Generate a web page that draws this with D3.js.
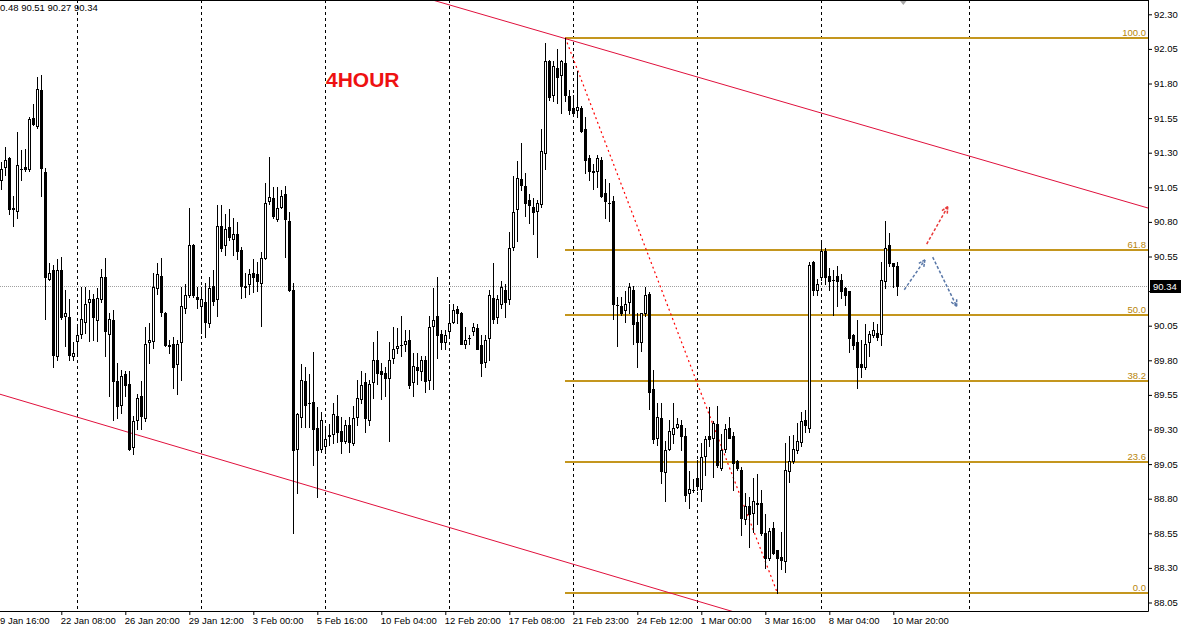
<!DOCTYPE html>
<html><head><meta charset="utf-8">
<script src="https://cdn.jsdelivr.net/npm/d3@7"></script>
<style>
html,body{margin:0;padding:0;background:#fff;overflow:hidden}
svg{display:block;font-family:"Liberation Sans",Arial,sans-serif}
</style></head><body>
<svg id="c" width="1185" height="626"></svg>
<script>
// ---- data (4H candles, index 0..224) ----
const opens=[91.10,91.20,91.26,90.90,90.88,91.18,91.20,91.18,91.55,91.49,91.75,91.16,90.39,90.45,89.83,90.45,90.12,90.11,89.83,89.94,
89.99,90.08,90.22,90.24,90.09,90.24,90.40,89.99,90.09,89.65,89.48,89.70,89.63,89.17,89.37,89.54,89.38,89.93,89.94,90.32,
90.41,90.14,89.91,89.92,89.77,89.93,90.18,90.27,90.63,90.26,90.19,90.22,90.07,90.34,90.24,90.77,90.63,90.76,90.68,90.71,
90.60,90.33,90.35,90.43,90.42,90.36,90.54,90.95,90.97,90.82,90.91,91.00,90.81,90.31,89.16,89.39,89.65,89.49,89.50,89.31,
89.16,89.18,89.26,89.27,89.40,89.29,89.22,89.33,89.20,89.39,89.52,89.64,89.37,89.64,89.80,89.72,89.71,89.67,89.82,89.89,
89.91,89.92,89.95,89.64,89.75,89.72,89.80,89.66,90.05,90.12,89.99,89.93,90.01,90.08,90.17,90.14,89.92,89.96,90.01,90.03,
89.91,89.79,89.96,90.25,90.11,90.21,90.31,90.24,90.62,90.89,91.11,91.06,90.96,90.91,90.88,90.93,91.30,91.96,91.72,91.91,
91.86,91.95,91.71,91.62,91.61,91.62,91.47,91.26,91.16,91.17,91.25,91.01,90.94,90.95,90.20,90.19,90.16,90.22,90.31,90.08,
89.93,90.14,90.28,89.59,89.24,89.38,88.99,89.16,89.27,89.32,89.33,89.25,88.84,88.86,88.95,88.87,89.11,89.25,89.24,89.34,
89.02,89.16,89.31,89.25,89.07,89.01,88.65,88.75,88.70,88.77,88.77,88.55,88.37,88.59,88.43,88.38,88.35,89.00,89.07,89.15,
89.21,89.37,89.31,90.51,90.31,90.40,90.59,90.41,90.38,90.41,90.38,90.32,90.30,89.98,89.93,89.77,89.75,89.93,89.98,90.00,
89.99,90.37,90.63,90.50,90.48];
const highs=[91.23,91.34,91.27,90.99,91.45,91.32,91.33,91.56,91.65,91.85,91.86,91.19,90.50,90.49,90.53,90.55,90.31,90.24,89.93,90.06,
90.33,90.33,90.31,90.28,90.32,90.46,90.54,90.14,90.16,89.78,89.73,89.72,89.72,89.40,89.56,89.65,90.04,90.07,90.43,90.50,
90.54,90.15,89.95,89.97,89.95,90.33,90.35,90.90,90.64,90.33,90.33,90.36,90.40,90.45,90.92,90.92,90.86,90.89,90.83,90.80,
90.62,90.43,90.46,90.53,90.51,90.58,91.08,91.27,91.05,91.05,91.03,91.06,90.87,90.36,89.42,89.77,89.75,89.70,89.86,89.46,
89.43,89.32,89.34,89.49,89.55,89.39,89.37,89.39,89.47,89.66,89.72,89.71,89.66,89.93,90.01,89.78,89.75,89.93,90.04,90.03,
90.12,90.02,90.02,89.85,89.85,89.83,89.83,90.12,90.32,90.40,90.02,90.02,90.21,90.21,90.19,90.15,90.04,89.98,90.07,90.06,
89.98,89.98,90.31,90.50,90.27,90.37,90.35,90.73,91.13,91.24,91.37,91.15,91.00,90.97,90.96,91.47,92.09,91.97,91.96,92.05,
91.97,92.13,91.75,91.72,91.89,91.64,91.56,91.28,91.22,91.28,91.27,91.11,91.08,90.99,90.26,90.26,90.30,90.36,90.34,90.14,
90.14,90.33,90.29,89.73,89.49,89.49,89.22,89.37,89.49,89.38,89.37,89.31,89.00,88.94,89.08,89.20,89.25,89.46,89.36,89.47,
89.27,89.34,89.39,89.28,89.08,89.03,88.84,88.81,88.95,88.98,88.86,88.69,88.59,88.63,88.43,88.56,89.20,89.25,89.26,89.35,
89.43,89.44,90.51,90.52,90.39,90.67,90.61,90.47,90.45,90.48,90.42,90.33,90.30,89.99,90.09,89.95,90.06,90.01,90.08,90.06,
90.51,90.81,90.72,90.50,90.51];
const lows=[91.04,91.14,90.86,90.77,90.83,91.10,91.17,91.17,91.50,91.48,90.99,90.10,90.38,89.75,89.80,90.10,89.90,89.80,89.80,89.84,
89.96,90.00,89.94,89.95,89.94,90.22,89.83,89.54,89.37,89.38,89.42,89.54,89.15,89.12,89.30,89.30,89.36,89.78,89.89,90.28,
90.12,89.90,89.85,89.60,89.56,89.66,90.14,90.26,90.26,90.18,90.00,89.97,90.04,90.20,90.12,90.59,90.56,90.67,90.56,90.53,
90.25,90.26,90.28,90.29,90.30,90.05,90.53,90.93,90.83,90.81,90.90,90.55,90.30,88.55,88.84,89.32,89.32,89.32,89.04,88.81,
89.14,89.13,89.19,89.20,89.21,89.13,89.20,89.14,89.19,89.33,89.49,89.28,89.33,89.53,89.63,89.52,89.54,89.22,89.78,89.85,
89.83,89.87,89.60,89.54,89.63,89.66,89.57,89.59,89.59,89.82,89.88,89.88,89.97,90.07,90.07,89.92,89.89,89.92,89.98,89.88,
89.69,89.75,89.80,90.07,90.07,90.18,90.11,90.21,90.60,90.66,91.03,90.84,90.79,90.71,90.55,90.91,91.18,91.68,91.67,91.66,
91.59,91.67,91.58,91.57,91.56,91.45,91.15,91.10,91.04,91.05,90.98,90.83,90.81,90.10,89.90,90.13,90.08,90.14,89.92,89.75,
89.87,90.12,89.45,89.20,89.19,88.91,88.78,89.15,89.20,89.31,89.15,88.78,88.73,88.85,88.86,88.78,88.97,89.18,88.96,89.03,
89.01,89.14,89.24,88.86,89.01,88.54,88.62,88.45,88.56,88.62,88.54,88.30,88.36,88.40,88.12,88.29,88.27,88.92,89.06,89.13,
89.18,89.28,89.28,90.27,90.27,90.38,90.35,90.31,90.13,90.19,90.25,90.20,89.86,89.88,89.60,89.68,89.74,89.83,89.97,89.95,
89.91,90.32,90.48,90.33,90.27];
const closes=[91.18,91.25,90.89,90.89,91.21,91.18,91.18,91.54,91.51,91.76,91.19,90.40,90.43,89.84,90.45,90.11,90.14,89.84,89.85,89.98,
90.10,90.21,90.24,90.11,90.25,90.40,90.01,90.10,89.65,89.47,89.69,89.62,89.16,89.36,89.53,89.40,89.92,89.95,90.33,90.42,
90.15,89.91,89.90,89.75,89.92,90.19,90.27,90.63,90.27,90.24,90.24,90.08,90.32,90.23,90.77,90.61,90.75,90.69,90.71,90.59,
90.34,90.34,90.42,90.40,90.37,90.54,90.94,90.98,90.84,90.90,90.99,90.82,90.31,89.15,89.41,89.66,89.48,89.49,89.30,89.15,
89.37,89.23,89.25,89.41,89.28,89.22,89.33,89.21,89.38,89.53,89.62,89.38,89.63,89.80,89.71,89.70,89.67,89.80,89.88,89.90,
89.91,89.94,89.62,89.76,89.73,89.80,89.65,90.04,90.09,89.98,89.93,89.98,90.07,90.16,90.14,89.92,89.95,89.96,90.04,89.88,
89.78,89.95,90.27,90.10,90.24,90.33,90.22,90.61,90.87,91.12,91.07,90.94,90.92,90.87,90.94,91.31,91.96,91.70,91.93,91.85,
91.96,91.72,91.61,91.59,91.63,91.46,91.25,91.17,91.17,91.26,90.99,90.95,90.94,90.21,90.20,90.14,90.21,90.33,90.06,89.93,
90.14,90.27,89.57,89.23,89.39,89.00,89.15,89.29,89.31,89.34,89.25,88.83,88.87,88.86,88.89,89.10,89.23,89.23,89.35,89.04,
89.15,89.30,89.24,89.06,89.02,88.66,88.75,88.69,88.78,88.76,88.55,88.37,88.57,88.41,88.37,88.36,89.01,89.07,89.16,89.22,
89.36,89.33,90.49,90.31,90.35,90.59,90.40,90.37,90.38,90.37,90.30,90.27,89.96,89.91,89.75,89.75,89.92,89.99,90.02,89.97,
90.38,90.61,90.50,90.48,90.34];

const priceTicks=[88.05,88.30,88.55,88.80,89.05,89.30,89.55,89.80,90.05,90.30,90.55,90.80,91.05,91.30,91.55,91.80,92.05,92.30];
const timeTickIdx=[-1,15,31,47,63,79,95,111,127,143,159,175,191,207,223];
const timeTickLabels=["9 Jan 16:00","22 Jan 08:00","26 Jan 20:00","29 Jan 12:00","3 Feb 00:00","5 Feb 16:00","10 Feb 04:00",
"12 Feb 20:00","17 Feb 08:00","21 Feb 23:00","24 Feb 12:00","1 Mar 00:00","3 Mar 16:00","8 Mar 04:00","10 Mar 20:00"];
const separatorIdx=[19,50,81,112,143,174,205,242];
const fibLevels=[0,23.6,38.2,50,61.8,100];
const fibLabels=["0.0","23.6","38.2","50.0","61.8","100.0"];
const fibHigh=92.13, fibLow=88.12, fibStartIdx=141, fibEndIdx=194;
const upperTrend=[[108.2,92.40],[286.7,90.90]];
const lowerTrend=[[-0.33,89.555],[183.4,87.98]];
const blueArrows=[[[225.75,90.31],[230.9,90.525]],[[232.85,90.545],[238.85,90.19]]];
const redArrows=[[[231.35,90.64],[236.6,90.91]]];
const lastPrice=90.34;
const headerText="0.48 90.51 90.27 90.34";
const titleText="4HOUR";

// ---- layout ----
const W=1185,H=626, plotR=1148, plotB=611;
const svg=d3.select("#c");
const x=d3.scaleLinear().domain([0,224]).range([1.3,897.3]);
const y=d3.scaleLinear().domain([88.05,92.30]).range([602.5,14.3]);
const FONT=9.5;

svg.append("defs").append("clipPath").attr("id","plot").append("rect")
  .attr("x",0).attr("y",0).attr("width",plotR).attr("height",plotB);
const g=svg.append("g").attr("clip-path","url(#plot)");

// period separators
g.selectAll("line.sep").data(separatorIdx).join("line")
  .attr("x1",d=>Math.round(x(d))+0.5).attr("x2",d=>Math.round(x(d))+0.5)
  .attr("y1",0).attr("y2",plotB)
  .attr("stroke","#000").attr("stroke-width",1).attr("stroke-dasharray","3,3");

// current price line
g.append("line").attr("x1",0).attr("x2",plotR)
  .attr("y1",Math.round(y(lastPrice))+0.5).attr("y2",Math.round(y(lastPrice))+0.5)
  .attr("stroke","#a0a0a0").attr("stroke-dasharray","1,1");

// fib levels
const fibY=lv=>y(fibLow+(fibHigh-fibLow)*lv/100);
g.selectAll("line.fib").data(fibLevels).join("line")
  .attr("x1",Math.round(x(fibStartIdx))).attr("x2",plotR)
  .attr("y1",d=>Math.round(fibY(d))).attr("y2",d=>Math.round(fibY(d)))
  .attr("stroke","#c4961e").attr("stroke-width",2);
g.selectAll("text.fib").data(fibLevels).join("text")
  .attr("x",plotR-2).attr("y",d=>Math.round(fibY(d))-2)
  .attr("text-anchor","end").attr("font-size",FONT).attr("fill","#b8860b")
  .text((d,k)=>fibLabels[k]);

// trend lines
const line=d3.line().x(d=>x(d[0])).y(d=>y(d[1]));
[upperTrend,lowerTrend].forEach(t=>{
  g.append("path").attr("d",line(t)).attr("fill","none").attr("stroke","#e0103c").attr("stroke-width",1);
});
// fib diagonal
g.append("path").attr("d",line([[fibStartIdx,fibHigh],[fibEndIdx,fibLow]]))
  .attr("fill","none").attr("stroke","#ff0000").attr("stroke-width",1.2).attr("stroke-dasharray","2,3");

// candles
const data=opens.map((o,i)=>({i,o,h:highs[i],l:lows[i],c:closes[i]}));
const cg=g.append("g");
cg.selectAll("line.wick").data(data).join("line")
  .attr("x1",d=>Math.round(x(d.i))+0.5).attr("x2",d=>Math.round(x(d.i))+0.5)
  .attr("y1",d=>Math.round(y(d.h))).attr("y2",d=>Math.round(y(d.l))+1)
  .attr("stroke","#000").attr("stroke-width",1);
cg.selectAll("rect.body").data(data.filter(d=>Math.round(y(d.o))!==Math.round(y(d.c)))).join("rect")
  .each(function(d){
    const cx=Math.round(x(d.i));
    const yt=Math.round(y(Math.max(d.o,d.c))), yb=Math.round(y(Math.min(d.o,d.c)));
    const s=d3.select(this);
    if(d.c>d.o){
      s.attr("x",cx-0.5).attr("y",yt+0.5).attr("width",2).attr("height",Math.max(1,yb-yt))
       .attr("fill","#fff").attr("stroke","#000").attr("stroke-width",1);
    }else{
      s.attr("x",cx-1).attr("y",yt).attr("width",3).attr("height",Math.max(1,yb-yt+1)).attr("fill","#000");
    }
  });
cg.selectAll("line.doji").data(data.filter(d=>Math.round(y(d.o))===Math.round(y(d.c)))).join("line")
  .attr("x1",d=>Math.round(x(d.i))-1).attr("x2",d=>Math.round(x(d.i))+2)
  .attr("y1",d=>Math.round(y(d.c))+0.5).attr("y2",d=>Math.round(y(d.c))+0.5)
  .attr("stroke","#000");

// arrows
function arrow(a,color){
  const p0=[x(a[0][0]),y(a[0][1])], p1=[x(a[1][0]),y(a[1][1])];
  g.append("line").attr("x1",p0[0]).attr("y1",p0[1]).attr("x2",p1[0]).attr("y2",p1[1])
    .attr("stroke",color).attr("stroke-width",1.5).attr("stroke-dasharray","3,2");
  const ang=Math.atan2(p1[1]-p0[1],p1[0]-p0[0]), L=8, sp=0.45;
  [ang+Math.PI-sp,ang+Math.PI+sp].forEach(b=>{
    g.append("line").attr("x1",p1[0]).attr("y1",p1[1])
      .attr("x2",p1[0]+L*Math.cos(b)).attr("y2",p1[1]+L*Math.sin(b))
      .attr("stroke",color).attr("stroke-width",1.5).attr("stroke-dasharray","3,1");
  });
}
blueArrows.forEach(a=>arrow(a,"#5a78a8"));
redArrows.forEach(a=>arrow(a,"#e83a3a"));

// small gray marker at top
g.append("path").attr("d",`M${x(225.5)-4},0 L${x(225.5)+4},0 L${x(225.5)},5 Z`).attr("fill","#a8a8a8");

// title
svg.append("text").attr("x",326).attr("y",87).attr("font-size",21).attr("font-weight","bold")
  .attr("fill","#ee1111").text(titleText);
// header
svg.append("text").attr("x",0).attr("y",11).attr("font-size",FONT).attr("fill","#000").text(headerText);

// frame
svg.append("line").attr("x1",0).attr("x2",plotR+0.5).attr("y1",0.5).attr("y2",0.5).attr("stroke","#000");
svg.append("line").attr("x1",plotR+0.5).attr("x2",plotR+0.5).attr("y1",0).attr("y2",plotB+0.5).attr("stroke","#000");
svg.append("line").attr("x1",0).attr("x2",plotR+0.5).attr("y1",plotB+0.5).attr("y2",plotB+0.5).attr("stroke","#000");

// price axis (the label hidden behind the last-price box is left out)
const ya=svg.append("g").attr("transform",`translate(${plotR},0)`)
  .call(d3.axisRight(y).tickValues(priceTicks).tickSize(4).tickPadding(2).tickFormat(d3.format(".2f")));
ya.select(".domain").remove();
ya.selectAll("text").attr("font-size",FONT).attr("font-family","Liberation Sans, Arial, sans-serif").attr("fill","#000")
  .filter(d=>Math.abs(y(d)-y(lastPrice))<10).remove();

// time axis
const xa=svg.append("g").attr("transform",`translate(0,${plotB})`)
  .call(d3.axisBottom(x).tickValues(timeTickIdx).tickSize(4).tickPadding(2).tickFormat((d,k)=>timeTickLabels[k]));
xa.select(".domain").remove();
xa.selectAll("text").attr("font-size",FONT).attr("font-family","Liberation Sans, Arial, sans-serif")
  .attr("text-anchor","start").attr("dx",d=>x(d)<0?-x(d)-0.5:-1).attr("fill","#000");

// last price label
const lp=svg.append("g");
lp.append("rect").attr("x",plotR+2).attr("y",Math.round(y(lastPrice))-6).attr("width",31).attr("height",13).attr("fill","#000");
lp.append("text").attr("x",plotR+5).attr("y",Math.round(y(lastPrice))+4).attr("font-size",FONT).attr("fill","#fff")
  .text(d3.format(".2f")(lastPrice));
</script></body></html>
